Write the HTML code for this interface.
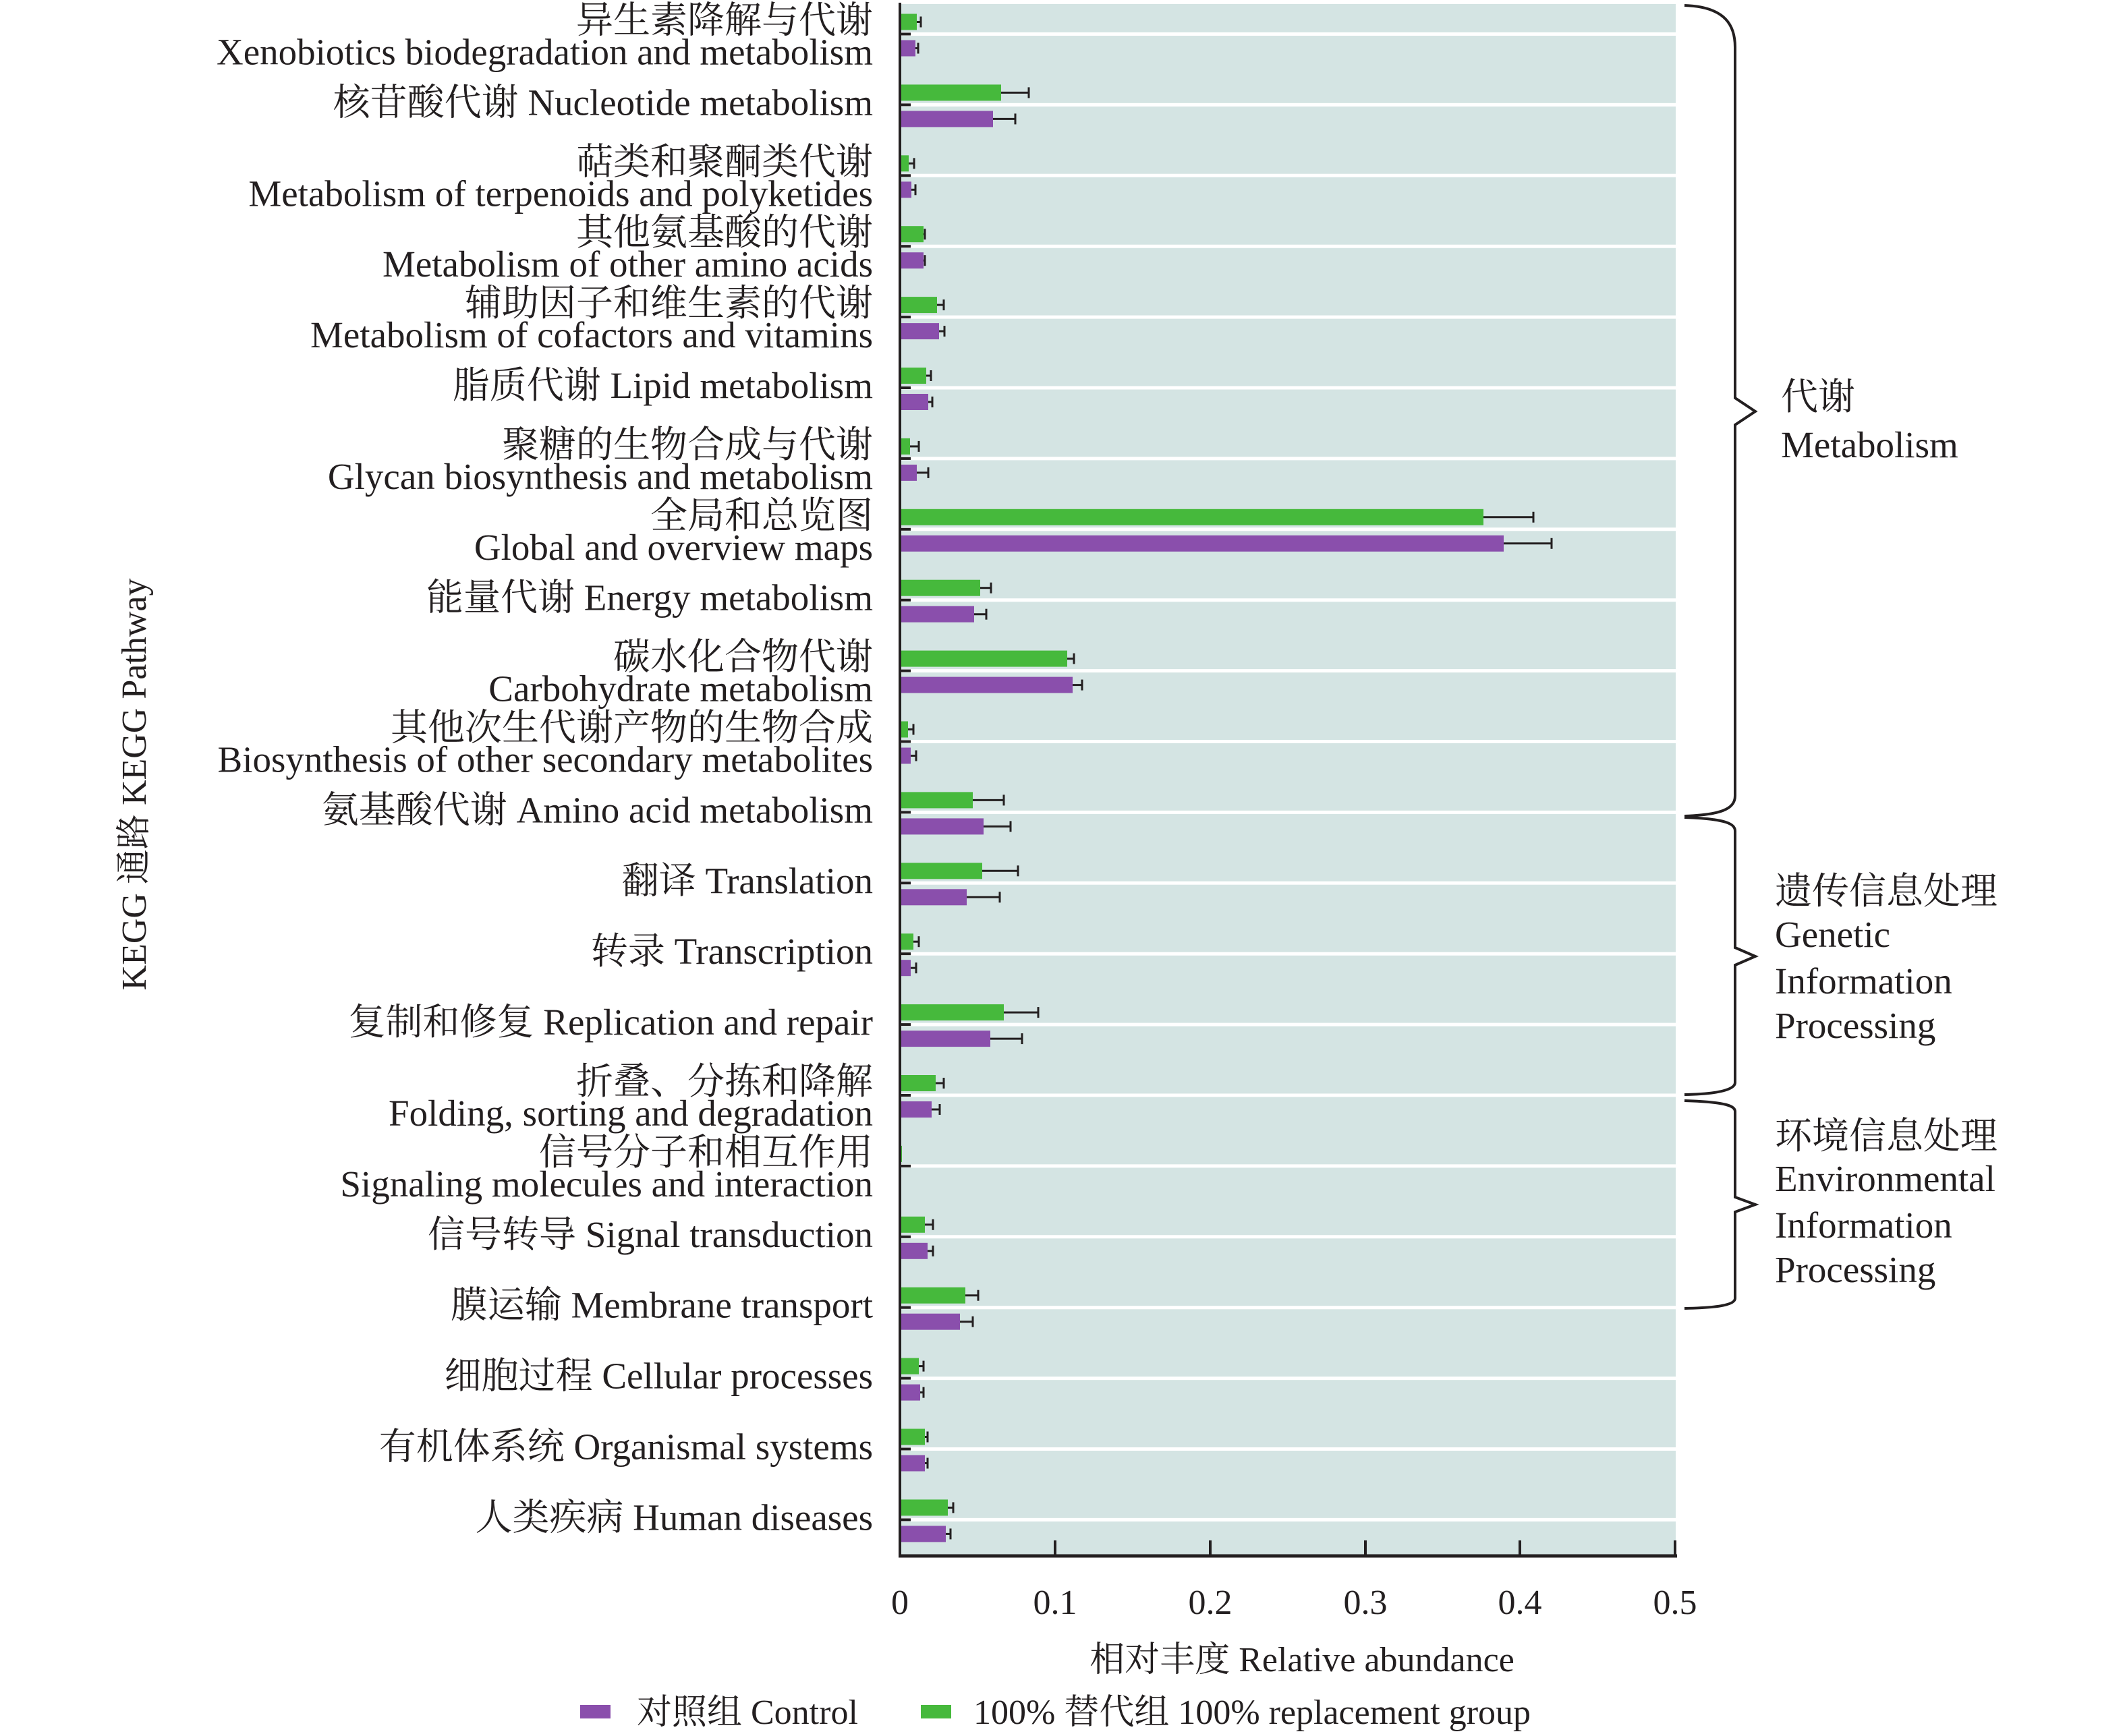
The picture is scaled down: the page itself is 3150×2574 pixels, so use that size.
<!DOCTYPE html>
<html><head><meta charset="utf-8"><style>
html,body{margin:0;padding:0;background:#fff;}
svg{display:block;}
text{font-family:"Liberation Serif","Noto Serif CJK SC",serif;fill:#231f20;}
</style></head><body>
<svg width="3150" height="2574" viewBox="0 0 3150 2574" xmlns="http://www.w3.org/2000/svg">
<rect x="1334" y="6" width="1150" height="2300" fill="#d4e4e3"/>
<g id="grid" stroke="#fff" stroke-width="5"></g>
<g id="bars"></g>
<g id="labels" font-size="55" text-anchor="end"></g>
<line x1="1334" y1="4" x2="1334" y2="2309" stroke="#231f20" stroke-width="4"/>
<line x1="1332" y1="2307" x2="2486" y2="2307" stroke="#231f20" stroke-width="5"/>
<g stroke="#231f20" stroke-width="4">
<line x1="1564" y1="2284" x2="1564" y2="2307"/><line x1="1794" y1="2284" x2="1794" y2="2307"/>
<line x1="2024" y1="2284" x2="2024" y2="2307"/><line x1="2253" y1="2284" x2="2253" y2="2307"/>
<line x1="2483" y1="2284" x2="2483" y2="2307"/>
</g>
<g font-size="52" text-anchor="middle">
<text x="1334" y="2393">0</text><text x="1564" y="2393">0.1</text><text x="1794" y="2393">0.2</text>
<text x="2024" y="2393">0.3</text><text x="2253" y="2393">0.4</text><text x="2483" y="2393">0.5</text>
<text x="1930" y="2478">相对丰度  Relative abundance</text>
</g>
<text font-size="52" text-anchor="middle" transform="translate(216,1163) rotate(-90)">KEGG 通路 KEGG Pathway</text>
<rect x="860" y="2528" width="45" height="20" fill="#8a4fac"/>
<text x="944" y="2556" font-size="52">对照组 Control</text>
<rect x="1365" y="2528" width="45" height="20" fill="#46b93c"/>
<text x="1443" y="2556" font-size="52">100% 替代组 100% replacement group</text>
<g fill="none" stroke="#231f20" stroke-width="4">
<path d="M2497,8 C2560,10 2572,40 2572,70 L2572,590 L2602,610 L2572,630 L2572,1180 C2572,1200 2550,1208 2497,1210"/>
<path d="M2497,1212 C2560,1214 2572,1222 2572,1232 L2572,1405 L2602,1418 L2572,1431 L2572,1605 C2572,1615 2550,1622 2497,1623"/>
<path d="M2497,1632 C2560,1634 2572,1640 2572,1648 L2572,1775 L2602,1786 L2572,1797 L2572,1925 C2572,1934 2550,1939 2497,1940"/>
</g>
<g font-size="55">
<text x="2640" y="607">代谢</text><text x="2640" y="678">Metabolism</text>
<text x="2631" y="1340">遗传信息处理</text><text x="2631" y="1404">Genetic</text>
<text x="2631" y="1473">Information</text><text x="2631" y="1539">Processing</text>
<text x="2631" y="1703">环境信息处理</text><text x="2631" y="1766">Environmental</text>
<text x="2631" y="1835">Information</text><text x="2631" y="1901">Processing</text>
</g>
<script>
var d=[
["异生素降解与代谢","Xenobiotics biodegradation and metabolism",25,31,23,27],
["核苷酸代谢 Nucleotide metabolism",null,150,191,138,171],
["萜类和聚酮类代谢","Metabolism of terpenoids and polyketides",13,21,17,23],
["其他氨基酸的代谢","Metabolism of other amino acids",35,37,35,37],
["辅助因子和维生素的代谢","Metabolism of cofactors and vitamins",55,65,58,66],
["脂质代谢 Lipid metabolism",null,39,46,42,48],
["聚糖的生物合成与代谢","Glycan biosynthesis and metabolism",15,28,25,42],
["全局和总览图","Global and overview maps",865,939,895,966],
["能量代谢 Energy metabolism",null,119,135,110,128],
["碳水化合物代谢","Carbohydrate metabolism",248,258,256,270],
["其他次生代谢产物的生物合成","Biosynthesis of other secondary metabolites",12,20,16,24],
["氨基酸代谢 Amino acid metabolism",null,108,154,124,164],
["翻译 Translation",null,122,175,99,148],
["转录 Transcription",null,20,28,16,24],
["复制和修复 Replication and repair",null,154,205,134,181],
["折叠、分拣和降解","Folding, sorting and degradation",53,65,47,59],
["信号分子和相互作用","Signaling molecules and interaction",3,3,2,2],
["信号转导 Signal transduction",null,37,49,41,49],
["膜运输 Membrane transport",null,97,116,89,108],
["细胞过程 Cellular processes",null,28,35,30,35],
["有机体系统 Organismal systems",null,37,41,37,41],
["人类疾病 Human diseases",null,71,79,68,75]];
var NS="http://www.w3.org/2000/svg",X0=1334;
function el(p,t,a,txt){var e=document.createElementNS(NS,t);for(var k in a)e.setAttribute(k,a[k]);if(txt)e.textContent=txt;p.appendChild(e);return e;}
var g=document.getElementById("grid"),b=document.getElementById("bars"),l=document.getElementById("labels");
d.forEach(function(r,i){var c=50.5+i*104.9;
el(g,"line",{x1:X0,y1:c,x2:2484,y2:c});
el(b,"line",{x1:X0,y1:c,x2:X0+16,y2:c,stroke:"#231f20","stroke-width":4});
function bar(y,w,e,col){if(w>0)el(b,"rect",{x:X0,y:y,width:w,height:24,fill:col});
if(e>w+1){el(b,"line",{x1:X0+w,y1:y+12,x2:X0+e,y2:y+12,stroke:"#231f20","stroke-width":3});
el(b,"line",{x1:X0+e,y1:y+4,x2:X0+e,y2:y+20,stroke:"#231f20","stroke-width":3});}}
bar(c-30,r[2],r[3],"#46b93c");bar(c+9,r[4],r[5],"#8a4fac");
if(r[1]){el(l,"text",{x:1294,y:c-2},r[0]);el(l,"text",{x:1294,y:c+45},r[1]);}
else el(l,"text",{x:1294,y:c+15},r[0]);
});
</script>
</svg>
</body></html>
